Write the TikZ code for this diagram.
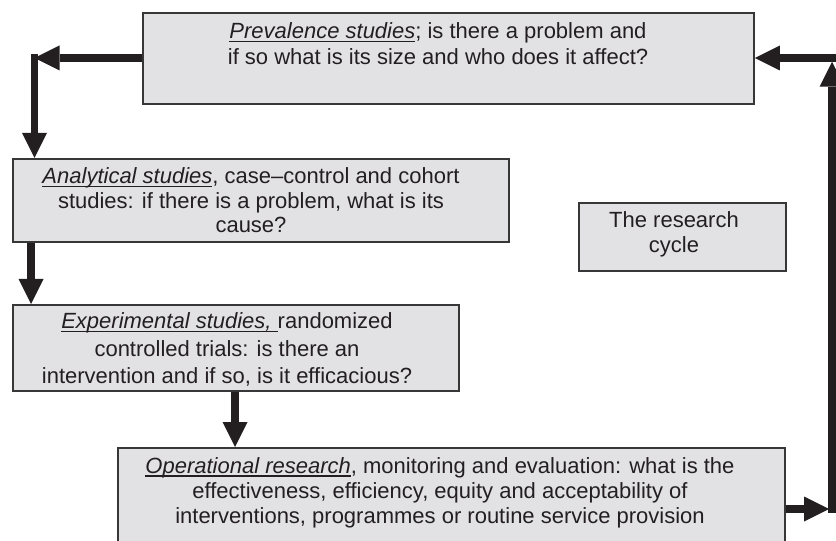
\documentclass[tikz,border=0pt]{standalone}
\usepackage{fontspec}
\setmainfont{Liberation Sans}
\usetikzlibrary{arrows.meta}

\definecolor{boxfill}{RGB}{226,226,229}
\definecolor{boxline}{RGB}{55,55,55}
\definecolor{ink}{RGB}{35,31,32}

% underline set at a fixed depth below the baseline
\newsavebox\undlbox
\newcommand\undl[1]{\sbox\undlbox{#1}\rlap{\rule[-3.5bp]{\wd\undlbox}{1.4bp}}\usebox\undlbox}

\begin{document}
\begin{tikzpicture}[x=1bp, y=-1bp,
  box/.style={draw=boxline, line width=1.8bp, fill=boxfill, inner sep=0pt, anchor=north west},
  % text blocks are placed by the baseline of their last line
  txt/.style={text=ink, font=\fontsize{22bp}{#1}\selectfont, align=center, inner sep=0pt, anchor=base},
  txt/.default=25.5bp,
  flow/.style={draw=ink, line width=7.5bp, -{Triangle[length=25bp, width=25bp, line width=0pt]}}]

\clip (0,0) rectangle (836,541);

% stages of the cycle
\node[box, minimum width=611bp, minimum height=91bp]  (prev) at (142,12)  {};
\node[box, minimum width=496bp, minimum height=83bp]  (anal) at (12,158)  {};
\node[box, minimum width=207bp, minimum height=68bp]  (cyc)  at (578,202) {};
\node[box, minimum width=446bp, minimum height=86bp]  (expt) at (12,304)  {};
\node[box, minimum width=667bp, minimum height=130bp] (oper) at (117,447) {};

% box texts
\node[txt=26bp] (prevtxt) at (438,65)
  {\undl{\textit{Prevalence studies}}; is there a problem and\\
   if so what is its size and who does it affect?};
\node[txt=24.5bp] (analtxt) at (251,233)
  {\undl{\textit{Analytical studies}}, case--control and cohort\\
   studies: if there is a problem, what is its\\
   cause?};
\node[txt=25bp] (cyctxt) at (674,253) {The research\\ cycle};
\node[txt=27bp] (expttxt) at (227,383)
  {\undl{\textit{Experimental studies,}\ }randomized\\
   controlled trials: is there an\\
   intervention and if so, is it efficacious?};
\node[txt=25bp] (opertxt) at (440,523)
  {\undl{\textit{Operational research}}, monitoring and evaluation: what is the\\
   effectiveness, efficiency, equity and acceptability of\\
   interventions, programmes or routine service provision};

% corners of the loop
\coordinate (lc) at (34.5,58);
\coordinate (rb) at (832,509);
\coordinate (rt) at (832,58);

% left-hand descent
\draw[flow] (prev.west |- lc) -- (lc);
\draw[flow] ([yshift=3.75bp]lc) -- (lc |- anal.north);
\draw[flow] ([xshift=19bp]anal.south west) -- ([xshift=19bp]anal.south west |- expt.north);
\draw[flow] ([xshift=223bp]expt.south west) -- ([xshift=223bp]expt.south west |- oper.north);

% right-hand return
\draw[flow] (oper.east |- rb) -- ([xshift=-3bp]rb);
\draw[flow] ([yshift=-3.75bp]rb) -- ([yshift=-3.75bp]rt);
\draw[flow] ([xshift=4bp]rt) -- (prev.east |- rt);

\end{tikzpicture}
\end{document}
